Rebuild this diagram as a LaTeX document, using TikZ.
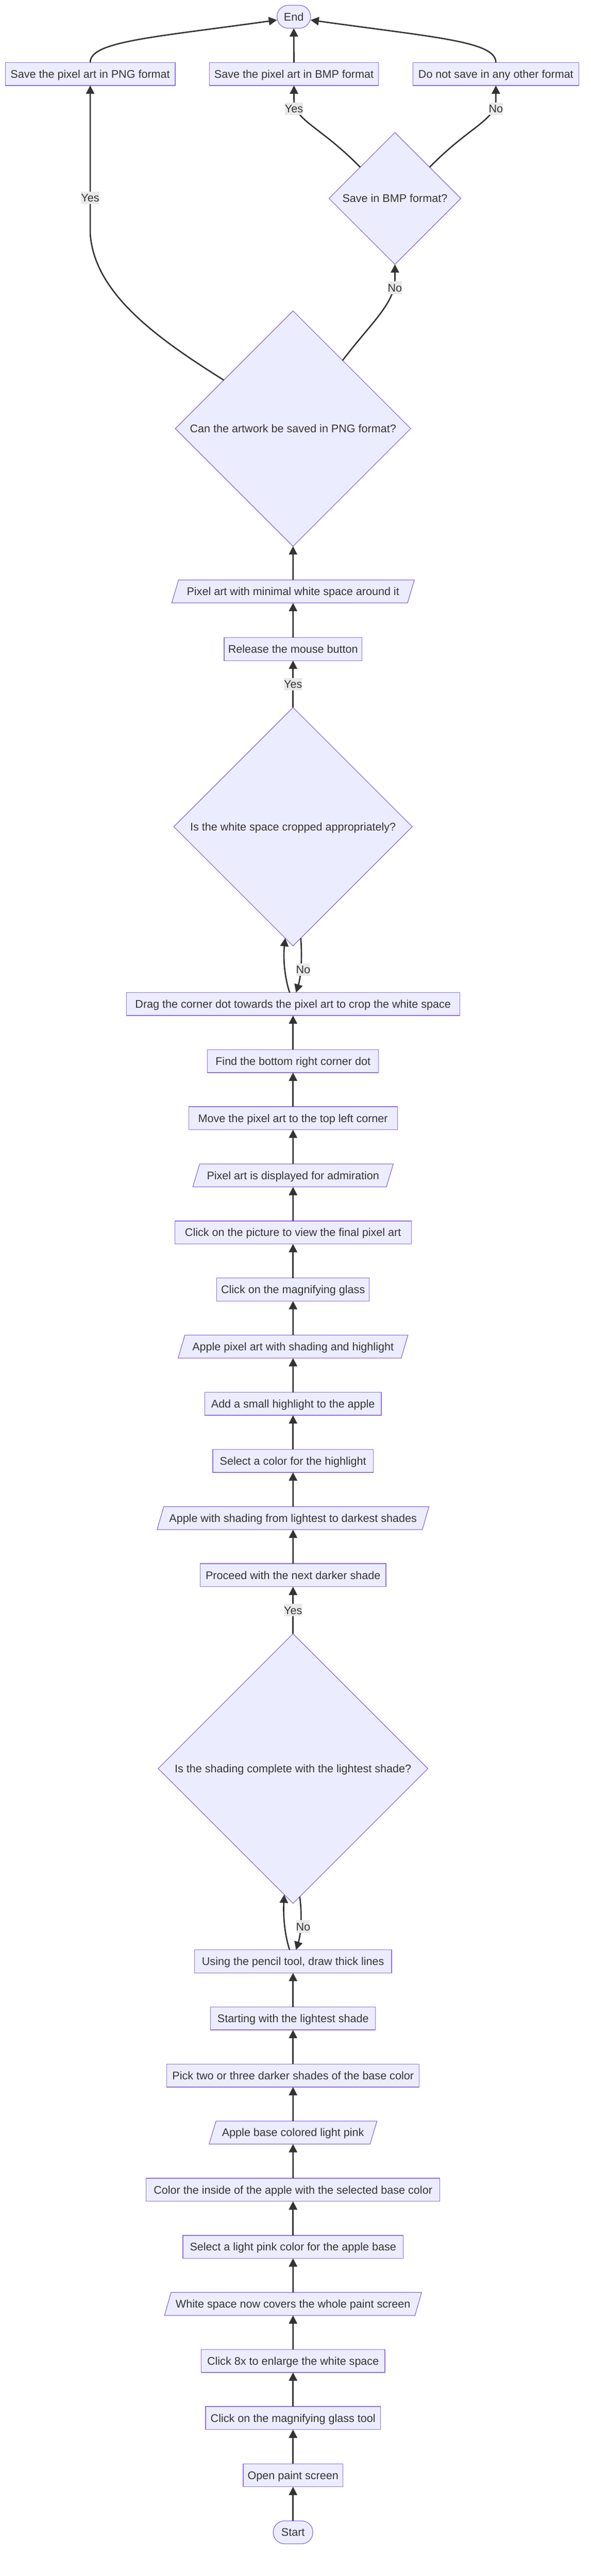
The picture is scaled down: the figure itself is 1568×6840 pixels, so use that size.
\documentclass[tikz,border=0pt]{standalone}
\usepackage{fontspec}
\setmainfont{Liberation Sans}
\usetikzlibrary{shapes.geometric,arrows.meta}
\definecolor{nfill}{HTML}{ECECFF}
\definecolor{nline}{HTML}{9370DB}
\definecolor{ink}{HTML}{333333}
\definecolor{lblbg}{HTML}{E9E9E9}
\begin{document}
\begin{tikzpicture}[x=1pt,y=-1pt,
  font=\fontsize{29.5pt}{35pt}\selectfont,
  base/.style={draw=nline, fill=nfill, line width=1.8pt, text=ink, inner sep=0pt, outer sep=0pt, text height=27pt, text depth=6pt},
  box/.style={base, rectangle, minimum height=61pt, minimum width=#1},
  stadium/.style={base, rectangle, rounded corners=30pt, minimum height=61pt, minimum width=#1},
  io/.style={base, trapezium, trapezium left angle=63, trapezium right angle=117, trapezium stretches=true, minimum height=61pt, minimum width=#1},
  decision/.style={base, diamond, aspect=1, minimum width=#1, minimum height=#1},
  conn/.style={draw=ink, line width=3.6pt, -{Triangle[length=22pt,width=22pt]}},
  lbl/.style={fill=lblbg, text=ink, inner sep=0pt, text height=27pt, text depth=6pt}]
\fill[white] (0,0) rectangle (1568,6840);
\useasboundingbox (0,0) rectangle (1568,6840);

% nodes
\node[stadium=105pt] (s0) at (778,6724) {Start};
\node[box=265pt] (n1) at (778,6572.5) {Open paint screen};
\node[box=464pt] (n2) at (778,6420.5) {Click on the magnifying glass tool};
\node[box=488pt] (n3) at (778,6269) {Click 8x to enlarge the white space};
\node[io=688pt] (p1) at (778,6117.5) {White space now covers the whole paint screen};
\node[box=585pt] (n4) at (778,5966) {Select a light pink color for the apple base};
\node[box=780pt] (n5) at (778,5814.5) {Color the inside of the apple with the selected base color};
\node[io=447pt] (p2) at (778,5662.5) {Apple base colored light pink};
\node[box=670pt] (n6) at (778,5511) {Pick two or three darker shades of the base color};
\node[box=438pt] (n7) at (778,5359.5) {Starting with the lightest shade};
\node[box=523pt] (n8) at (778,5208) {Using the pencil tool, draw thick lines};
\node[decision=716pt] (d1) at (778,4696) {Is the shading complete with the lightest shade?};
\node[box=493pt] (n9) at (778,4182.5) {Proceed with the next darker shade};
\node[io=728pt] (p3) at (778,4031) {Apple with shading from lightest to darkest shades};
\node[box=426pt] (n10) at (778,3879) {Select a color for the highlight};
\node[box=469pt] (n11) at (778,3727.5) {Add a small highlight to the apple};
\node[io=612pt] (p4) at (778,3575.5) {Apple pixel art with shading and highlight};
\node[box=405pt] (n12) at (778,3424) {Click on the magnifying glass};
\node[box=628pt] (n13) at (778,3272.5) {Click on the picture to view the final pixel art};
\node[io=534pt] (p5) at (778,3121) {Pixel art is displayed for admiration};
\node[box=554pt] (n14) at (778,2969) {Move the pixel art to the top left corner};
\node[box=454pt] (n15) at (778,2817.5) {Find the bottom right corner dot};
\node[box=885pt] (n16) at (778,2666) {Drag the corner dot towards the pixel art to crop the white space};
\node[decision=633pt] (d2) at (778,2195) {Is the white space cropped appropriately?};
\node[box=366pt] (n17) at (778,1723.5) {Release the mouse button};
\node[io=648pt] (p6) at (778,1570.5) {Pixel art with minimal white space around it};
\node[decision=625pt] (d4) at (778,1138) {Can the artwork be saved in PNG format?};
\node[decision=350pt] (d3) at (1048.5,527) {Save in BMP format?};
\node[box=451pt] (t1) at (239.5,196.5) {Save the pixel art in PNG format};
\node[box=449pt] (t2) at (780.5,196.5) {Save the pixel art in BMP format};
\node[box=441pt] (t3) at (1316.5,196.5) {Do not save in any other format};
\node[stadium=89pt] (e) at (780,44.5) {End};

% straight chain
\foreach \a/\b in {s0/n1,n1/n2,n2/n3,n3/p1,p1/n4,n4/n5,n5/p2,p2/n6,n6/n7,n7/n8,
  n9/p3,p3/n10,n10/n11,n11/p4,p4/n12,n12/n13,n13/p5,p5/n14,n14/n15,n15/n16,
  n17/p6,p6/d4,t2/e}
  \draw[conn] (\a.north) -- (\b.south);

% decision 1 loop
\draw[conn] ([xshift=-9pt]n8.north) .. controls (754,5131.5) and (752,5081.5) .. (d1.266.4);
\draw[conn] (d1.273.6) .. controls (802,5081.5) and (800,5131.5) .. ([xshift=8pt]n8.north);
\node[lbl] (l1) at (805,5115.5) {No};
\draw[conn] (d1.north) -- node[lbl] (l2) {Yes} (n9.south);

% decision 2 loop
\draw[conn] ([xshift=-9pt]n16.north) .. controls (754,2590) and (752,2540) .. (d2.266);
\draw[conn] (d2.274) .. controls (802,2540) and (800,2590) .. ([xshift=8pt]n16.north);
\node[lbl] (l3) at (805,2574) {No};
\draw[conn] (d2.north) -- node[lbl] (l4) {Yes} (n17.south);

% decision PNG
\draw[conn] (d4.145) .. controls (420,900) and (250,780) .. (239.5,620) -- node[lbl,pos=0.24] (l5) {Yes} (t1.south);
\draw[conn] (d4.54) .. controls (985,858) and (1048.5,805) .. (1048.5,742) -- (d3.south);
\node[lbl] (l6) at (1048.5,764) {No};

% decision BMP
\draw[conn] (d3.138) .. controls (850,335) and (780.5,320) .. (780.5,265) -- (t2.south);
\node[lbl] (l7) at (780.5,289) {Yes};
\draw[conn] (d3.42) .. controls (1247,335) and (1316.5,320) .. (1316.5,265) -- (t3.south);
\node[lbl] (l8) at (1316.5,289) {No};

% to End
\draw[conn] (t1.north) .. controls (239.5,110) and (400,100) .. (e.191);
\draw[conn] (t3.north) .. controls (1316.5,110) and (1160,100) .. (e.-11);
\end{tikzpicture}
\end{document}
